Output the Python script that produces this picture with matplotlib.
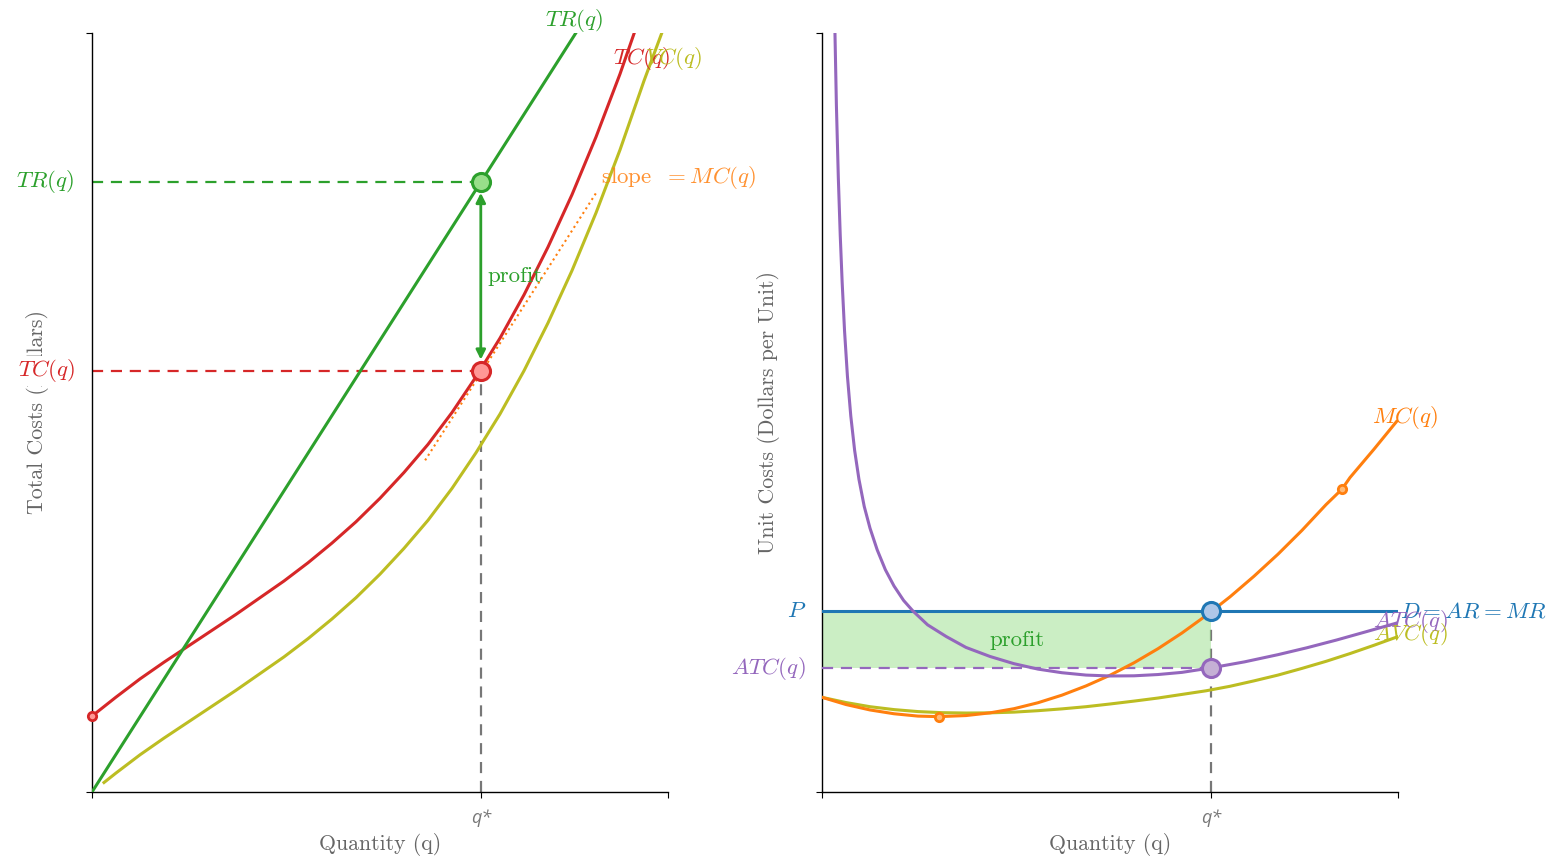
import matplotlib.pyplot as plt

plt.rcParams['font.family'] = ['serif']
plt.rcParams['font.serif'] = ['cmr10', 'DejaVu Serif']
plt.rcParams['mathtext.fontset'] = 'cm'
plt.rcParams['axes.unicode_minus'] = False

# ---- left panel: total revenue / total cost (q 0..12, dollars 0..100)
q_star = 8.1
tr_star = 80.4
tc_star = 55.5

tr_q = [0, 10.08]
tr_vals = [0, 100]

tc_q = [0, 0.5, 1, 1.5, 2, 2.5, 3, 3.5, 4, 4.5, 5, 5.5, 6, 6.5, 7, 7.5, 8,
        8.5, 9, 9.5, 10, 10.5, 11, 11.5]
tc_vals = [10, 12.5, 14.9, 17.1, 19.2, 21.3, 23.4, 25.6, 27.8, 30.2, 32.8,
           35.6, 38.7, 42.1, 45.8, 50.0, 54.7, 59.8, 65.5, 71.8, 78.7, 86.3,
           94.6, 103.7]

vc_q = [0.25, 0.5, 1, 1.5, 2, 2.5, 3, 3.5, 4, 4.5, 5, 5.5, 6, 6.5, 7, 7.5, 8,
        8.5, 9, 9.5, 10, 10.5, 11, 11.5, 11.9]
vc_vals = [1.25, 2.5, 4.9, 7.1, 9.2, 11.3, 13.4, 15.6, 17.8, 20.2, 22.8, 25.6,
           28.7, 32.1, 35.8, 40.0, 44.7, 49.8, 55.5, 61.8, 68.7, 76.3, 84.6,
           93.7, 100.5]

tangent_q = [6.94, 10.52]
tangent_vals = [43.7, 79.1]

# ---- right panel: unit costs (q 0..12, dollars per unit 0..42)
price = 10.0
atc_star = 6.86

atc_q = [0.27, 0.30, 0.34, 0.38, 0.42, 0.47, 0.53, 0.6, 0.68, 0.77, 0.88, 1.0,
         1.15, 1.32, 1.5, 1.7, 1.9, 2.2, 2.59, 3.0, 3.5, 4.0, 4.5, 5.0, 5.5,
         6.0, 6.5, 7.0, 7.5, 8.13, 8.8, 9.5, 10.1, 10.72, 11.35, 12.0]
atc_vals = [42.0, 38.0, 34.0, 30.8, 28.2, 25.5, 23.0, 20.8, 18.9, 17.3, 15.8,
            14.6, 13.4, 12.3, 11.4, 10.6, 10.0, 9.25, 8.6, 8.0, 7.5, 7.1, 6.8,
            6.6, 6.47, 6.42, 6.43, 6.5, 6.62, 6.88, 7.2, 7.6, 7.98, 8.41, 8.88,
            9.37]

avc_q = [0, 0.5, 1, 1.5, 2, 2.5, 3, 3.5, 4, 4.5, 5, 5.5, 6, 6.5, 7, 7.5, 8,
         8.5, 9, 9.5, 10, 10.5, 11, 11.5, 12]
avc_vals = [5.24, 4.95, 4.72, 4.56, 4.45, 4.39, 4.37, 4.38, 4.42, 4.5, 4.6,
            4.72, 4.87, 5.03, 5.2, 5.4, 5.6, 5.85, 6.15, 6.47, 6.84, 7.23,
            7.66, 8.12, 8.6]

mc_q = [0, 0.5, 1, 1.5, 2, 2.43, 3, 3.5, 4, 4.5, 5, 5.5, 6, 6.5, 7, 7.5, 8,
        8.5, 9, 9.5, 10, 10.5, 10.83, 11, 11.5, 11.97]
mc_vals = [5.24, 4.84, 4.54, 4.33, 4.2, 4.17, 4.23, 4.38, 4.61, 4.94, 5.36,
           5.87, 6.46, 7.15, 7.93, 8.8, 9.76, 10.8, 11.94, 13.16, 14.48, 15.9,
           16.75, 17.4, 18.97, 20.5]

# small handle dots drawn on the curves
mc_dot_q = [2.43, 10.83]
mc_dot_vals = [4.17, 16.75]

green, red, olive = '#2ca02c', '#d62728', '#bcbd22'
orange, purple, blue = '#ff7f0e', '#9467bd', '#1f77b4'
grey = '#666666'
fs = 16.5

W, H = 1557, 859
fig = plt.figure(figsize=(W / 100, H / 100), dpi=100)
axL = fig.add_axes([92 / W, 67 / H, 576 / W, 759 / H])
axR = fig.add_axes([822 / W, 67 / H, 576 / W, 759 / H])

for ax, ymax in ((axL, 100), (axR, 42)):
    ax.set_xlim(0, 12)
    ax.set_ylim(0, ymax)
    ax.spines[['top', 'right']].set_visible(False)
    ax.spines[['left', 'bottom']].set_linewidth(1.0)
    ax.set_xticks([0, q_star, 12])
    ax.set_xticklabels(['', '', ''])
    ax.set_yticks([0, ymax])
    ax.set_yticklabels(['', ''])
    ax.tick_params(direction='out', length=4.3, width=0.8)
    ax.text(q_star, -26 / 759, 'q*', transform=ax.get_xaxis_transform(),
            ha='center', va='center', fontsize=13, color='#777777',
            style='italic', family='Open Sans')
    ax.text(0.5, -53 / 759, 'Quantity (q)', transform=ax.transAxes,
            ha='center', va='center', fontsize=15.7, color=grey)

lw = 2.2
dash = (0, (5, 3.5))

# left panel
axL.text(-54 / 576, 0.5, 'Total Costs (Dollars)', transform=axL.transAxes,
         rotation=90, ha='center', va='center', fontsize=15.8, color=grey, zorder=1)
axL.plot([0, q_star], [tr_star, tr_star], color=green, lw=1.6, ls=dash, zorder=2)
axL.plot([0, q_star], [tc_star, tc_star], color=red, lw=1.6, ls=dash, zorder=2)
axL.plot([q_star, q_star], [0, tc_star], color='#777777', lw=1.6, ls=dash, zorder=2)
axL.plot(vc_q, vc_vals, color=olive, lw=lw, zorder=3)
axL.plot(tc_q, tc_vals, color=red, lw=lw, zorder=3)
axL.plot(tr_q, tr_vals, color=green, lw=lw, zorder=3)
axL.plot(tangent_q, tangent_vals, color=orange, lw=1.5, ls=':', zorder=4)
axL.annotate('', xy=(q_star, tc_star), xytext=(q_star, tr_star),
             arrowprops=dict(arrowstyle='<|-|>', color=green, lw=2,
                             mutation_scale=14, shrinkA=8, shrinkB=8), zorder=4)
axL.plot([0], [10], 'o', ms=6, mfc='#ff9896', mec=red, mew=2, zorder=5, clip_on=False)
axL.plot([q_star], [tr_star], 'o', ms=13, mfc='#98df8a', mec=green, mew=2.2, zorder=6)
axL.plot([q_star], [tc_star], 'o', ms=13, mfc='#ff9896', mec=red, mew=2.2, zorder=6)

ytr = axL.get_yaxis_transform()
axL.text(-17 / 576, tr_star, r'$TR(q)$', transform=ytr, ha='right', va='center',
         fontsize=fs, color=green)
axL.text(-17 / 576, tc_star, r'$TC(q)$', transform=ytr, ha='right', va='center',
         fontsize=fs, color=red, zorder=5,
         bbox=dict(fc='white', ec='none', pad=1))
axL.text(9.44, 101.7, r'$TR(q)$', ha='left', va='center', fontsize=fs, color=green)
axL.text(10.85, 96.7, r'$TC(q)$', ha='left', va='center', fontsize=fs, color=red)
axL.text(11.52, 96.7, r'$VC(q)$', ha='left', va='center', fontsize=fs, color=olive)
axL.text(10.6, 81.0, r'slope $\;=MC(q)$', ha='left', va='center', fontsize=fs,
         color=orange, alpha=0.85)
axL.text(8.23, 68.0, 'profit', ha='left', va='center', fontsize=fs, color=green,
         zorder=7)

# right panel
axR.text(-54 / 576, 0.5, 'Unit Costs (Dollars per Unit)', transform=axR.transAxes,
         rotation=90, ha='center', va='center', fontsize=15.8, color=grey)
axR.plot([q_star, q_star], [0, price], color='#777777', lw=1.6, ls=dash, zorder=2)
axR.fill_between([0, q_star], [atc_star, atc_star], [price, price],
                 color='#98df8a', alpha=0.5, lw=0, zorder=2.5)
axR.plot([0, q_star], [atc_star, atc_star], color=purple, lw=1.6, ls=dash, zorder=2.6)
axR.plot([0, 12], [price, price], color=blue, lw=lw, zorder=3)
axR.plot(avc_q, avc_vals, color=olive, lw=lw, zorder=3)
axR.plot(mc_q, mc_vals, color=orange, lw=lw, zorder=3.2)
axR.plot(atc_q, atc_vals, color=purple, lw=lw, zorder=3.4)
axR.plot(mc_dot_q, mc_dot_vals, 'o', ls='none', ms=6, mfc='#ffbb78',
         mec=orange, mew=2, zorder=5)
axR.plot([q_star], [price], 'o', ms=13, mfc='#aec7e8', mec=blue, mew=2.2, zorder=6)
axR.plot([q_star], [atc_star], 'o', ms=13, mfc='#c5b0d5', mec=purple, mew=2.2, zorder=6)

ytr = axR.get_yaxis_transform()
axR.text(-16 / 576, price, r'$P$', transform=ytr, ha='right', va='center',
         fontsize=fs, color=blue)
axR.text(-16 / 576, atc_star, r'$ATC(q)$', transform=ytr, ha='right', va='center',
         fontsize=fs, color=purple)
axR.text(11.46, 20.7, r'$MC(q)$', ha='left', va='center', fontsize=fs, color=orange)
axR.text(12.04, 10.0, r'$D = AR = MR$', ha='left', va='center', fontsize=16.5,
         color=blue)
axR.text(11.48, 9.41, r'$ATC(q)$', ha='left', va='center', fontsize=fs, color=purple)
axR.text(11.48, 8.69, r'$AVC(q)$', ha='left', va='center', fontsize=fs, color=olive)
axR.text(4.06, 8.41, 'profit', ha='center', va='center', fontsize=fs, color=green,
         zorder=7)

fig.savefig('out.png', dpi=100, facecolor='white')
